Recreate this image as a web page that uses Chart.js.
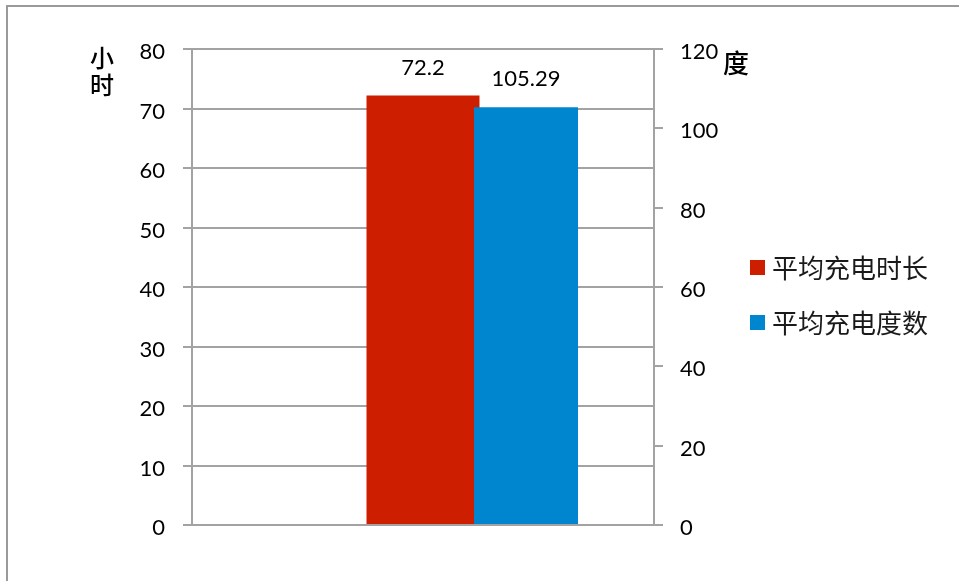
<!DOCTYPE html>
<html>
<head>
<meta charset="utf-8">
<script src="https://cdn.jsdelivr.net/npm/chart.js@4.4.1/dist/chart.umd.min.js"></script>
<style>
  html, body { margin: 0; padding: 0; background: #fff; }
  #wrap { width: 959px; height: 581px; position: relative; }
</style>
</head>
<body>
<div id="wrap"><canvas id="c" width="959" height="581"></canvas></div>
<script>
// Chart data
const categories = [''];
const durationHours = [72.2];     // 平均充电时长 (left axis, 小时)
const energyKwh = [105.29];       // 平均充电度数 (right axis, 度)
const seriesNames = ['平均充电时长', '平均充电度数'];
const leftTicks = [0, 10, 20, 30, 40, 50, 60, 70, 80];
const rightTicks = [0, 20, 40, 60, 80, 100, 120];

const RED = '#CD1E00';
const BLUE = '#0085CF';
const GRID = '#A3A3A3';
const NUM_FONT = 'Lato, "Open Sans", sans-serif';
const CJK_FONT = '"Noto Sans CJK SC", sans-serif';

// Outer frame, axis titles, value labels and legend
const decorations = {
  id: 'decorations',
  beforeDraw(chart) {
    const ctx = chart.ctx;
    ctx.save();
    ctx.strokeStyle = '#9A9A9A';
    ctx.lineWidth = 2;
    ctx.beginPath();
    ctx.moveTo(7, 600);
    ctx.lineTo(7, 6);
    ctx.lineTo(980, 6);
    ctx.stroke();
    ctx.restore();
  },
  afterDatasetsDraw(chart) {
    const ctx = chart.ctx;
    ctx.save();
    // value labels above bars
    ctx.fillStyle = '#000';
    ctx.font = '22px ' + NUM_FONT;
    ctx.textAlign = 'center';
    ctx.textBaseline = 'middle';
    chart.data.datasets.forEach((ds, i) => {
      const meta = chart.getDatasetMeta(i);
      meta.data.forEach((bar, j) => {
        const v = ds.data[j];
        if (v === null || v === undefined) return;
        ctx.fillText(String(v), bar.x, bar.y - 28);
      });
    });

    // axis titles
    ctx.font = '500 24px ' + CJK_FONT;
    ctx.fillText('小', 102, 58);
    ctx.fillText('时', 102, 85);
    ctx.font = '500 26px ' + CJK_FONT;
    ctx.fillText('度', 736, 63);

    // legend
    const entries = chart.data.datasets.filter(d => d.label);
    entries.forEach((d, k) => {
      const cy = 267 + k * 55;
      ctx.fillStyle = d.backgroundColor;
      ctx.fillRect(750, cy - 7, 15, 15);
      ctx.fillStyle = '#1a1a1a';
      ctx.font = '26px ' + CJK_FONT;
      ctx.textAlign = 'left';
      ctx.fillText(d.label, 772, cy + 1);
    });
    ctx.restore();
  }
};

new Chart(document.getElementById('c'), {
  type: 'bar',
  data: {
    labels: categories,
    datasets: [
      {
        label: seriesNames[0],
        data: durationHours,
        backgroundColor: RED,
        yAxisID: 'y',
        grouped: false,
        categoryPercentage: 1,
        barPercentage: 0.2446,
        order: 2
      },
      {
        // empty slot that sits beside the secondary series in its group
        label: '',
        data: categories.map(() => null),
        backgroundColor: 'rgba(0,0,0,0)',
        yAxisID: 'y1',
        categoryPercentage: 0.8918,
        barPercentage: 0.5049,
        order: 1
      },
      {
        label: seriesNames[1],
        data: energyKwh,
        backgroundColor: BLUE,
        yAxisID: 'y1',
        categoryPercentage: 0.8918,
        barPercentage: 0.5049,
        order: 1
      }
    ]
  },
  options: {
    responsive: false,
    animation: false,
    devicePixelRatio: 1,
    layout: { padding: { top: 49, bottom: 56, left: 0, right: 0 } },
    plugins: {
      legend: { display: false },
      tooltip: { enabled: false }
    },
    scales: {
      x: { type: 'category', display: false, offset: true },
      y: {
        position: 'left',
        min: leftTicks[0],
        max: leftTicks[leftTicks.length - 1],
        afterBuildTicks(scale) { scale.ticks = leftTicks.map(v => ({ value: v })); },
        afterFit(scale) { scale.width = 192; },
        grid: { color: GRID, lineWidth: 2, tickLength: 9, drawTicks: true },
        border: { display: true, color: GRID, width: 2 },
        ticks: { color: '#000', padding: 18, labelOffset: 3, font: { family: NUM_FONT, size: 22 } }
      },
      y1: {
        position: 'right',
        min: rightTicks[0],
        max: rightTicks[rightTicks.length - 1],
        afterBuildTicks(scale) { scale.ticks = rightTicks.map(v => ({ value: v })); },
        afterFit(scale) { scale.width = 305; },
        grid: { color: GRID, lineWidth: 2, tickLength: 9, drawOnChartArea: false, drawTicks: true },
        border: { display: true, color: GRID, width: 2 },
        ticks: { color: '#000', padding: 17, labelOffset: 3, font: { family: NUM_FONT, size: 22 } }
      }
    }
  },
  plugins: [decorations]
});
</script>
</body>
</html>
